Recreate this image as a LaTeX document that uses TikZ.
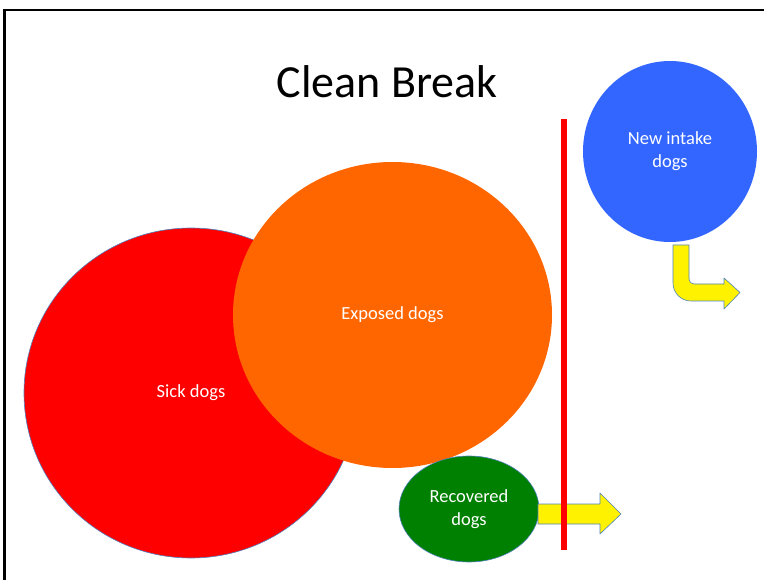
\documentclass[tikz,border=0pt]{standalone}
\usepackage{fontspec}
\setmainfont{Carlito}
\usetikzlibrary{shapes.geometric}
\definecolor{sickred}{HTML}{FF0000}
\definecolor{exporange}{HTML}{FF6600}
\definecolor{recgreen}{HTML}{008000}
\definecolor{intakeblue}{HTML}{3366FF}
\definecolor{rimblue}{HTML}{4F81BD}
\tikzset{
	dognode/.style = {ellipse, inner sep=0pt, align=center, text=white,
		font=\fontsize{18.5}{23}\selectfont},% groupe de chiens
	blockarrow/.style = {fill=yellow, draw=rimblue, line width=0.6pt,
		line join=round},% fleche jaune
	breakline/.style = {draw=sickred, line width=6pt}% la coupure
}
\begin{document}
\begin{tikzpicture}[x=1pt,y=-1pt]
	\useasboundingbox (0,0) rectangle (764,580);
	% cadre
	\draw[line width=2.5pt] (4.5,580) -- (4.5,10) -- (764,10);
	\node (title) at (387,82) {\fontsize{46}{52}\selectfont Clean Break};
	% les groupes
	\node [dognode, fill=sickred, draw=rimblue, line width=0.6pt,
		minimum width=334pt, minimum height=330pt] (sick) at (191,393) {Sick dogs};
	\node [dognode, fill=exporange, minimum width=319pt,
		minimum height=306pt] (exposed) at (392.5,315) {Exposed dogs};
	\node [dognode, fill=recgreen, draw=rimblue, line width=0.6pt,
		minimum width=140pt, minimum height=106pt] (recovered) at (469,509)
		{Recovered\\dogs};
	\node [dognode, fill=intakeblue, minimum width=174pt,
		minimum height=181pt] (intake) at (670,151.5) {New intake\\dogs};
	% fleches
	\path[blockarrow] (538,504) -- (600,504) -- (600,493) -- (621,514)
		-- (600,534) -- (600,524) -- (538,524) -- cycle;
	\path[blockarrow] (673,245) -- (673,283)
		.. controls (673,293) and (681,301) .. (691,301)
		-- (724,301) -- (724,309) -- (740,292.5) -- (724,278) -- (724,284)
		-- (694,284) .. controls (691.2,284) and (689,281.8) .. (689,279)
		-- (689,245) -- cycle;
	\draw[breakline] (564,119) -- (564,550);
\end{tikzpicture}
\end{document}
